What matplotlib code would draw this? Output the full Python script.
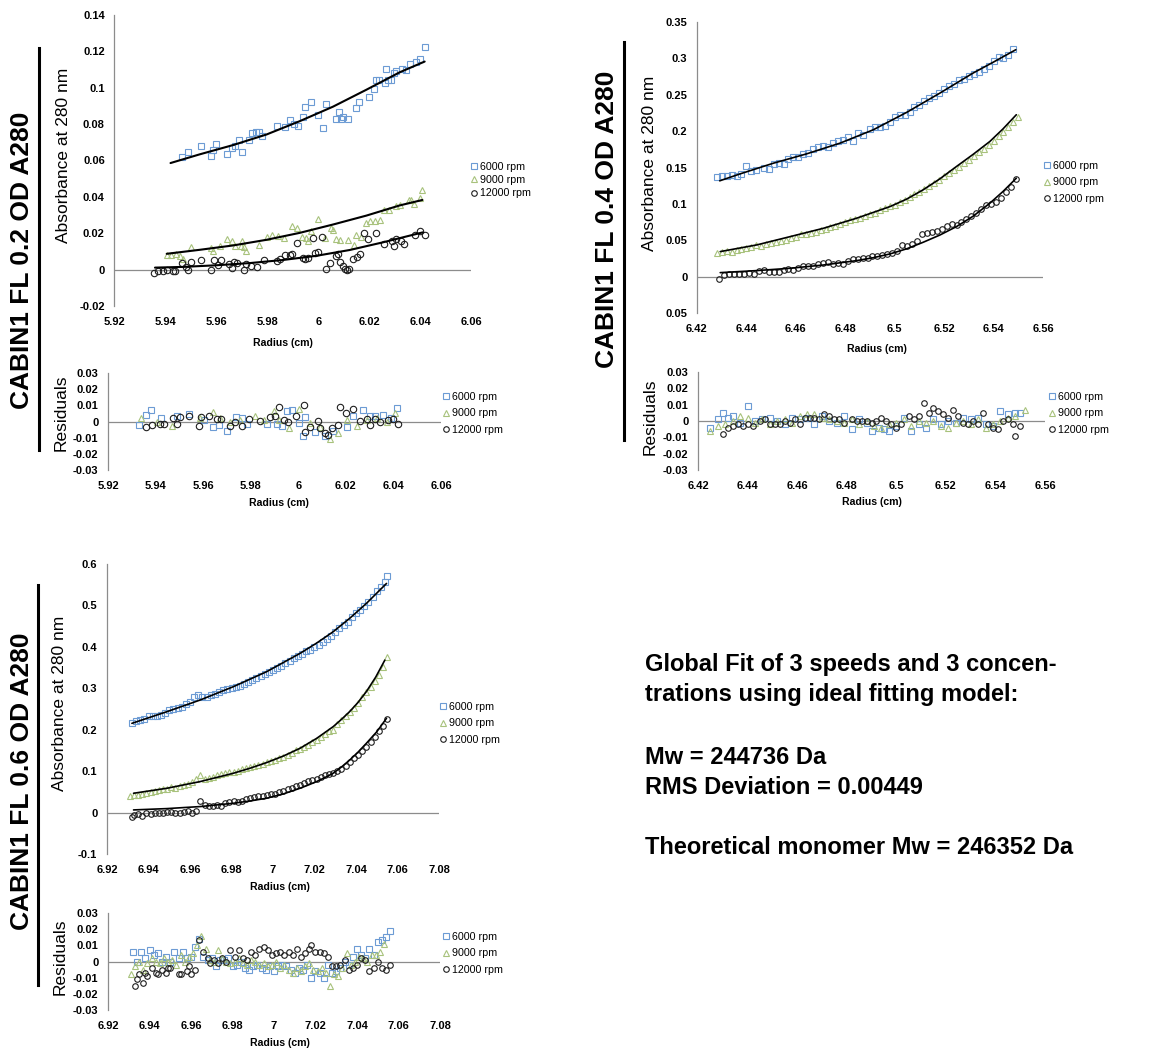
import matplotlib
matplotlib.use("Agg")
import matplotlib.pyplot as plt
from matplotlib.lines import Line2D

plt.rcParams["font.family"] = ["Liberation Sans", "DejaVu Sans"]

W, H = 1165, 1055
BLUE = "#6c9bd4"
GREEN = "#a8c27c"
BLACK = "#1e1e1e"
GRAY = "#8c8c8c"

SPEEDS = ["6000 rpm", "9000 rpm", "12000 rpm"]
SAMPLES = ["CABIN1 FL 0.2 OD A280", "CABIN1 FL 0.4 OD A280", "CABIN1 FL 0.6 OD A280"]

# ---------------- 0.2 OD: absorbance (radius cm, A280) ----------------
od02_abs_6000 = [(5.9467, 0.0619), (5.9490, 0.0648), (5.9538, 0.0678), (5.9577, 0.0626), (5.9587, 0.0657),
                 (5.9599, 0.0692), (5.9640, 0.0634), (5.9662, 0.0670), (5.9672, 0.0680), (5.9688, 0.0710),
                 (5.9700, 0.0648), (5.9729, 0.0714), (5.9740, 0.0750), (5.9757, 0.0754), (5.9767, 0.0754),
                 (5.9778, 0.0734), (5.9838, 0.0787), (5.9869, 0.0783), (5.9888, 0.0823), (5.9904, 0.0801),
                 (5.9919, 0.0787), (5.9940, 0.0839), (5.9948, 0.0892), (5.9971, 0.0920), (5.9999, 0.0849),
                 (6.0019, 0.0779), (6.0029, 0.0909), (6.0069, 0.0830), (6.0080, 0.0867), (6.0088, 0.0830),
                 (6.0099, 0.0837), (6.0117, 0.0830), (6.0147, 0.0889), (6.0159, 0.0920), (6.0198, 0.0947),
                 (6.0218, 0.0994), (6.0228, 0.1040), (6.0238, 0.1044), (6.0261, 0.1025), (6.0267, 0.1104),
                 (6.0276, 0.1044), (6.0287, 0.1040), (6.0297, 0.1080), (6.0305, 0.1090), (6.0329, 0.1104),
                 (6.0346, 0.1095), (6.0359, 0.1129), (6.0385, 0.1140), (6.0398, 0.1158), (6.0418, 0.1224)]
od02_abs_9000 = [(5.9408, 0.0078), (5.9423, 0.0082), (5.9440, 0.0084), (5.9457, 0.0073), (5.9470, 0.0058),
                 (5.9500, 0.0124), (5.9577, 0.0120), (5.9588, 0.0102), (5.9614, 0.0128), (5.9640, 0.0169),
                 (5.9660, 0.0157), (5.9673, 0.0128), (5.9695, 0.0128), (5.9701, 0.0157), (5.9709, 0.0124),
                 (5.9718, 0.0102), (5.9769, 0.0138), (5.9797, 0.0182), (5.9819, 0.0193), (5.9841, 0.0184),
                 (5.9865, 0.0175), (5.9899, 0.0240), (5.9918, 0.0231), (5.9938, 0.0182), (5.9951, 0.0175),
                 (5.9960, 0.0157), (5.9972, 0.0215), (5.9999, 0.0279), (6.0026, 0.0175), (6.0049, 0.0228),
                 (6.0058, 0.0220), (6.0069, 0.0171), (6.0087, 0.0164), (6.0116, 0.0164), (6.0139, 0.0133),
                 (6.0147, 0.0191), (6.0167, 0.0182), (6.0189, 0.0255), (6.0205, 0.0270), (6.0224, 0.0266),
                 (6.0244, 0.0275), (6.0257, 0.0328), (6.0277, 0.0330), (6.0307, 0.0348), (6.0320, 0.0357),
                 (6.0356, 0.0383), (6.0365, 0.0384), (6.0378, 0.0361), (6.0398, 0.0392), (6.0409, 0.0439)]
od02_abs_12000 = [(5.9356, -0.0018), (5.9372, -0.0007), (5.9389, -0.0007), (5.9408, -0.0004), (5.9428, -0.0007),
                  (5.9437, -0.0007), (5.9467, 0.0036), (5.9479, 0.0015), (5.9490, 0.0000), (5.9499, 0.0042),
                  (5.9538, 0.0055), (5.9577, -0.0004), (5.9589, 0.0051), (5.9607, 0.0024), (5.9618, 0.0055),
                  (5.9648, 0.0033), (5.9660, 0.0009), (5.9670, 0.0044), (5.9681, 0.0036), (5.9708, 0.0000),
                  (5.9718, 0.0033), (5.9738, 0.0022), (5.9758, 0.0013), (5.9788, 0.0055), (5.9840, 0.0046),
                  (5.9849, 0.0060), (5.9870, 0.0078), (5.9888, 0.0082), (5.9899, 0.0087), (5.9918, 0.0148),
                  (5.9941, 0.0066), (5.9950, 0.0060), (5.9959, 0.0066), (5.9980, 0.0175), (5.9989, 0.0091),
                  (5.9999, 0.0097), (6.0016, 0.0179), (6.0029, 0.0005), (6.0045, 0.0035), (6.0069, 0.0073),
                  (6.0079, 0.0087), (6.0087, 0.0042), (6.0097, 0.0018), (6.0104, 0.0005), (6.0114, 0.0000),
                  (6.0119, 0.0004), (6.0136, 0.0060), (6.0154, 0.0069), (6.0163, 0.0084), (6.0178, 0.0200),
                  (6.0195, 0.0166), (6.0228, 0.0200), (6.0257, 0.0140), (6.0289, 0.0158), (6.0296, 0.0128),
                  (6.0307, 0.0171), (6.0326, 0.0160), (6.0337, 0.0142), (6.0379, 0.0191), (6.0398, 0.0215),
                  (6.0418, 0.0193)]
od02_fit_6000 = [(5.9420, 0.0586), (5.9535, 0.0634), (5.9666, 0.0685), (5.9797, 0.0743), (5.9927, 0.0816),
                 (6.0058, 0.0896), (6.0189, 0.0989), (6.0320, 0.1085), (6.0418, 0.1144)]
od02_fit_9000 = [(5.9405, 0.0087), (5.9535, 0.0109), (5.9666, 0.0133), (5.9797, 0.0164), (5.9927, 0.0202),
                 (6.0058, 0.0248), (6.0189, 0.0297), (6.0320, 0.0353), (6.0409, 0.0383)]
od02_fit_12000 = [(5.9359, 0.0011), (5.9470, 0.0015), (5.9601, 0.0024), (5.9731, 0.0036), (5.9862, 0.0053),
                  (5.9993, 0.0076), (6.0124, 0.0108), (6.0254, 0.0150), (6.0411, 0.0205)]

# ---------------- 0.2 OD: residuals ----------------
od02_res_6000 = [(5.9329, -0.0021), (5.9360, 0.0041), (5.9381, 0.0072), (5.9423, 0.0021), (5.9490, 0.0035),
                 (5.9539, 0.0046), (5.9602, 0.0010), (5.9640, -0.0035), (5.9665, -0.0021), (5.9700, -0.0058),
                 (5.9739, 0.0027), (5.9763, 0.0023), (5.9784, -0.0014), (5.9868, -0.0017), (5.9910, -0.0017),
                 (5.9931, -0.0025), (5.9952, 0.0062), (5.9973, 0.0072), (6.0001, -0.0010), (6.0019, -0.0089),
                 (6.0030, 0.0027), (6.0071, -0.0068), (6.0113, -0.0089), (6.0148, -0.0056), (6.0204, -0.0035),
                 (6.0232, 0.0035), (6.0271, 0.0072), (6.0302, 0.0031), (6.0323, 0.0031), (6.0358, 0.0041),
                 (6.0389, 0.0021), (6.0414, 0.0083)]
od02_res_9000 = [(5.9339, 0.0021), (5.9406, 0.0000), (5.9469, -0.0027), (5.9588, 0.0021), (5.9640, 0.0058),
                 (5.9672, 0.0021), (5.9714, 0.0000), (5.9756, 0.0010), (5.9819, 0.0031), (5.9854, 0.0010),
                 (5.9896, 0.0062), (5.9921, 0.0010), (5.9959, -0.0041), (6.0001, 0.0077), (6.0050, -0.0010),
                 (6.0092, -0.0031), (6.0134, -0.0110), (6.0169, -0.0072), (6.0204, 0.0010), (6.0246, -0.0027),
                 (6.0288, 0.0010), (6.0330, 0.0021), (6.0372, 0.0000), (6.0407, 0.0052)]
od02_res_12000 = [(5.9358, -0.0031), (5.9386, -0.0021), (5.9417, -0.0017), (5.9437, -0.0017), (5.9472, 0.0019),
                  (5.9490, -0.0014), (5.9501, 0.0025), (5.9540, 0.0037), (5.9581, -0.0027), (5.9592, 0.0027),
                  (5.9623, 0.0031), (5.9658, 0.0014), (5.9675, 0.0014), (5.9714, -0.0027), (5.9735, -0.0004),
                  (5.9763, -0.0025), (5.9791, 0.0017), (5.9840, 0.0006), (5.9882, 0.0025), (5.9903, 0.0037),
                  (5.9920, 0.0089), (5.9938, 0.0012), (5.9955, -0.0006), (5.9991, 0.0031), (6.0022, 0.0103),
                  (6.0030, -0.0064), (6.0050, -0.0037), (6.0081, 0.0004), (6.0092, -0.0041), (6.0113, -0.0072),
                  (6.0127, -0.0083), (6.0141, -0.0039), (6.0169, -0.0021), (6.0176, 0.0089), (6.0200, 0.0052),
                  (6.0232, 0.0077), (6.0260, 0.0006), (6.0288, 0.0017), (6.0302, -0.0021), (6.0323, 0.0017),
                  (6.0344, 0.0000), (6.0379, 0.0010), (6.0400, 0.0017), (6.0421, -0.0014)]

# ---------------- 0.4 OD: absorbance ----------------
od04_abs_6000 = [(6.428, 0.137), (6.430, 0.139), (6.432, 0.138), (6.434, 0.140), (6.436, 0.138), (6.438, 0.141),
                 (6.440, 0.152), (6.442, 0.145), (6.444, 0.147), (6.447, 0.150), (6.449, 0.148), (6.451, 0.155),
                 (6.453, 0.156), (6.455, 0.155), (6.457, 0.162), (6.459, 0.165), (6.461, 0.165), (6.463, 0.168),
                 (6.465, 0.170), (6.467, 0.175), (6.469, 0.178), (6.471, 0.180), (6.473, 0.178), (6.475, 0.183),
                 (6.477, 0.186), (6.479, 0.188), (6.481, 0.192), (6.483, 0.186), (6.485, 0.197), (6.487, 0.194),
                 (6.490, 0.203), (6.492, 0.205), (6.494, 0.206), (6.496, 0.207), (6.498, 0.212), (6.500, 0.220),
                 (6.502, 0.222), (6.504, 0.222), (6.506, 0.226), (6.508, 0.233), (6.510, 0.236), (6.512, 0.242),
                 (6.514, 0.245), (6.516, 0.248), (6.518, 0.252), (6.520, 0.258), (6.522, 0.262), (6.524, 0.265),
                 (6.526, 0.270), (6.528, 0.272), (6.530, 0.276), (6.532, 0.278), (6.534, 0.281), (6.536, 0.285),
                 (6.538, 0.290), (6.540, 0.297), (6.542, 0.302), (6.544, 0.301), (6.546, 0.305), (6.548, 0.313)]
od04_abs_9000 = [(6.428, 0.033), (6.430, 0.034), (6.432, 0.035), (6.434, 0.034), (6.436, 0.036), (6.438, 0.038),
                 (6.440, 0.040), (6.442, 0.041), (6.444, 0.043), (6.446, 0.042), (6.448, 0.045), (6.450, 0.046),
                 (6.452, 0.047), (6.454, 0.049), (6.456, 0.050), (6.458, 0.053), (6.460, 0.055), (6.462, 0.058),
                 (6.464, 0.059), (6.466, 0.060), (6.468, 0.062), (6.470, 0.064), (6.472, 0.066), (6.474, 0.068),
                 (6.476, 0.070), (6.478, 0.073), (6.480, 0.075), (6.482, 0.078), (6.484, 0.079), (6.486, 0.081),
                 (6.488, 0.083), (6.490, 0.086), (6.492, 0.088), (6.494, 0.091), (6.496, 0.094), (6.498, 0.097),
                 (6.500, 0.099), (6.502, 0.103), (6.504, 0.106), (6.506, 0.110), (6.508, 0.113), (6.510, 0.117),
                 (6.512, 0.120), (6.514, 0.124), (6.516, 0.129), (6.518, 0.133), (6.520, 0.138), (6.522, 0.142),
                 (6.524, 0.146), (6.526, 0.151), (6.528, 0.156), (6.530, 0.160), (6.532, 0.166), (6.534, 0.171),
                 (6.536, 0.176), (6.538, 0.181), (6.540, 0.186), (6.542, 0.193), (6.544, 0.199), (6.546, 0.206),
                 (6.548, 0.212), (6.550, 0.220)]
od04_abs_12000 = [(6.429, -0.003), (6.431, 0.002), (6.433, 0.003), (6.435, 0.004), (6.437, 0.003), (6.439, 0.004),
                  (6.441, 0.005), (6.443, 0.004), (6.445, 0.008), (6.447, 0.009), (6.449, 0.006), (6.451, 0.007),
                  (6.453, 0.007), (6.455, 0.009), (6.457, 0.010), (6.459, 0.009), (6.461, 0.012), (6.463, 0.014),
                  (6.465, 0.015), (6.467, 0.014), (6.469, 0.017), (6.471, 0.019), (6.473, 0.020), (6.475, 0.018),
                  (6.477, 0.019), (6.479, 0.018), (6.481, 0.022), (6.483, 0.024), (6.485, 0.024), (6.487, 0.025),
                  (6.489, 0.026), (6.491, 0.028), (6.493, 0.029), (6.495, 0.030), (6.497, 0.031), (6.499, 0.032),
                  (6.501, 0.035), (6.503, 0.043), (6.505, 0.042), (6.507, 0.045), (6.509, 0.049), (6.511, 0.058),
                  (6.513, 0.060), (6.515, 0.062), (6.517, 0.063), (6.519, 0.066), (6.521, 0.070), (6.523, 0.073),
                  (6.525, 0.071), (6.527, 0.075), (6.529, 0.079), (6.531, 0.083), (6.533, 0.087), (6.535, 0.093),
                  (6.537, 0.098), (6.539, 0.100), (6.541, 0.103), (6.543, 0.108), (6.545, 0.116), (6.547, 0.123),
                  (6.549, 0.134)]
od04_fit_6000 = [(6.4292, 0.1317), (6.4375, 0.1413), (6.4510, 0.1560), (6.4644, 0.1688), (6.4779, 0.1835),
                 (6.4913, 0.2018), (6.5048, 0.2257), (6.5183, 0.2523), (6.5317, 0.2798), (6.5400, 0.2950),
                 (6.5490, 0.3119)]
od04_fit_9000 = [(6.4294, 0.0344), (6.4442, 0.0436), (6.4577, 0.0550), (6.4712, 0.0665), (6.4846, 0.0803),
                 (6.4981, 0.0963), (6.5048, 0.1065), (6.5115, 0.1193), (6.5183, 0.1345), (6.5250, 0.1514),
                 (6.5317, 0.1680), (6.5385, 0.1858), (6.5438, 0.2030), (6.5492, 0.2225)]
od04_fit_12000 = [(6.4294, 0.0055), (6.4442, 0.0083), (6.4577, 0.0115), (6.4712, 0.0160), (6.4846, 0.0220),
                  (6.4913, 0.0260), (6.4981, 0.0312), (6.5048, 0.0382), (6.5115, 0.0472), (6.5183, 0.0572),
                  (6.5250, 0.0688), (6.5317, 0.0830), (6.5385, 0.1009), (6.5438, 0.1170), (6.5492, 0.1353)]

# ---------------- 0.4 OD: residuals ----------------
od04_res_6000 = [(6.425, -0.004), (6.428, 0.001), (6.430, 0.005), (6.432, 0.002), (6.434, 0.003), (6.437, -0.001),
                 (6.440, 0.009), (6.443, 0.000), (6.446, 0.001), (6.449, 0.002), (6.452, 0.000), (6.455, -0.002),
                 (6.458, 0.002), (6.461, 0.001), (6.464, 0.002), (6.467, -0.002), (6.470, 0.003), (6.473, 0.000),
                 (6.476, -0.001), (6.479, 0.003), (6.482, -0.005), (6.485, 0.001), (6.488, -0.001), (6.490, -0.006),
                 (6.493, -0.004), (6.495, -0.005), (6.497, -0.006), (6.500, -0.003), (6.503, 0.002), (6.506, -0.006),
                 (6.509, -0.002), (6.512, -0.004), (6.515, 0.001), (6.518, -0.002), (6.521, 0.000), (6.524, -0.001),
                 (6.527, 0.002), (6.530, 0.001), (6.533, 0.002), (6.536, -0.002), (6.539, -0.003), (6.542, 0.006),
                 (6.545, 0.004), (6.548, 0.005), (6.550, 0.005)]
od04_res_9000 = [(6.425, -0.006), (6.428, -0.003), (6.431, -0.002), (6.434, 0.000), (6.437, 0.003), (6.440, 0.002),
                 (6.443, -0.001), (6.446, 0.001), (6.449, -0.002), (6.452, 0.000), (6.455, 0.001), (6.458, -0.001),
                 (6.461, 0.003), (6.464, 0.004), (6.467, 0.004), (6.470, 0.002), (6.473, 0.001), (6.476, 0.000),
                 (6.479, -0.001), (6.482, 0.001), (6.485, -0.002), (6.488, 0.000), (6.491, -0.003), (6.494, -0.004),
                 (6.497, -0.002), (6.500, -0.001), (6.503, 0.001), (6.506, -0.003), (6.509, 0.000), (6.512, -0.001),
                 (6.515, 0.000), (6.518, -0.003), (6.521, -0.004), (6.524, -0.001), (6.527, 0.000), (6.530, -0.002),
                 (6.533, 0.001), (6.536, -0.004), (6.539, -0.002), (6.542, 0.000), (6.545, 0.002), (6.548, 0.003),
                 (6.552, 0.007)]
od04_res_12000 = [(6.430, -0.008), (6.432, -0.004), (6.434, -0.003), (6.436, -0.002), (6.438, -0.003), (6.440, -0.002),
                  (6.442, -0.003), (6.445, 0.000), (6.447, 0.001), (6.449, -0.002), (6.451, -0.002), (6.453, -0.002),
                  (6.455, 0.000), (6.457, -0.001), (6.459, 0.001), (6.461, -0.002), (6.463, 0.002), (6.465, 0.002),
                  (6.467, 0.002), (6.469, 0.001), (6.471, 0.004), (6.473, 0.003), (6.475, 0.001), (6.477, 0.001),
                  (6.479, -0.001), (6.482, 0.001), (6.484, 0.000), (6.486, 0.000), (6.488, 0.000), (6.490, -0.001),
                  (6.492, 0.000), (6.494, 0.002), (6.496, 0.000), (6.498, -0.002), (6.500, -0.004), (6.502, -0.002),
                  (6.505, 0.003), (6.507, 0.001), (6.509, 0.003), (6.511, 0.011), (6.513, 0.005), (6.515, 0.008),
                  (6.517, 0.006), (6.519, 0.004), (6.521, 0.002), (6.523, 0.007), (6.525, 0.003), (6.527, -0.001),
                  (6.529, -0.002), (6.531, 0.000), (6.533, -0.002), (6.535, 0.005), (6.537, -0.002), (6.539, -0.004),
                  (6.541, -0.005), (6.543, 0.000), (6.545, 0.001), (6.547, -0.002), (6.548, -0.009), (6.550, -0.003)]

# ---------------- 0.6 OD: absorbance ----------------
od06_abs_6000 = [(6.932, 0.217), (6.934, 0.222), (6.936, 0.224), (6.938, 0.226), (6.940, 0.232), (6.942, 0.233),
                 (6.944, 0.234), (6.946, 0.236), (6.948, 0.240), (6.950, 0.248), (6.952, 0.250), (6.954, 0.252),
                 (6.956, 0.255), (6.958, 0.262), (6.960, 0.268), (6.962, 0.280), (6.964, 0.285), (6.966, 0.278),
                 (6.968, 0.280), (6.970, 0.283), (6.972, 0.286), (6.974, 0.290), (6.976, 0.296), (6.978, 0.298),
                 (6.980, 0.301), (6.982, 0.304), (6.984, 0.306), (6.986, 0.310), (6.988, 0.316), (6.990, 0.320),
                 (6.992, 0.325), (6.994, 0.330), (6.996, 0.335), (6.998, 0.340), (7.000, 0.344), (7.002, 0.350),
                 (7.004, 0.355), (7.006, 0.360), (7.008, 0.366), (7.010, 0.372), (7.012, 0.377), (7.014, 0.383),
                 (7.016, 0.389), (7.018, 0.393), (7.020, 0.399), (7.022, 0.404), (7.024, 0.412), (7.026, 0.420),
                 (7.028, 0.427), (7.030, 0.437), (7.032, 0.445), (7.034, 0.452), (7.036, 0.461), (7.038, 0.472),
                 (7.040, 0.482), (7.042, 0.490), (7.044, 0.498), (7.046, 0.508), (7.048, 0.520), (7.050, 0.535),
                 (7.052, 0.545), (7.054, 0.556), (7.055, 0.570)]
od06_abs_9000 = [(6.931, 0.040), (6.933, 0.043), (6.935, 0.042), (6.937, 0.046), (6.939, 0.048), (6.941, 0.050),
                 (6.943, 0.052), (6.945, 0.054), (6.947, 0.056), (6.949, 0.057), (6.951, 0.061), (6.953, 0.060),
                 (6.955, 0.064), (6.957, 0.066), (6.959, 0.068), (6.961, 0.073), (6.963, 0.080), (6.965, 0.090),
                 (6.967, 0.082), (6.969, 0.083), (6.971, 0.086), (6.973, 0.091), (6.975, 0.094), (6.977, 0.095),
                 (6.979, 0.097), (6.981, 0.099), (6.983, 0.101), (6.985, 0.104), (6.987, 0.108), (6.989, 0.110),
                 (6.991, 0.113), (6.993, 0.115), (6.995, 0.118), (6.997, 0.121), (6.999, 0.124), (7.001, 0.127),
                 (7.003, 0.131), (7.005, 0.135), (7.007, 0.140), (7.009, 0.145), (7.011, 0.150), (7.013, 0.153),
                 (7.015, 0.158), (7.017, 0.164), (7.019, 0.170), (7.021, 0.176), (7.023, 0.182), (7.025, 0.190),
                 (7.027, 0.198), (7.029, 0.200), (7.031, 0.215), (7.033, 0.224), (7.035, 0.232), (7.037, 0.242),
                 (7.039, 0.253), (7.041, 0.264), (7.043, 0.278), (7.045, 0.290), (7.047, 0.302), (7.049, 0.318),
                 (7.051, 0.332), (7.053, 0.352), (7.055, 0.375)]
od06_abs_12000 = [(6.932, -0.010), (6.933, -0.006), (6.935, -0.003), (6.937, -0.008), (6.939, -0.002), (6.941, -0.004),
                  (6.943, -0.001), (6.945, 0.000), (6.947, -0.002), (6.949, 0.001), (6.951, 0.002), (6.953, -0.002),
                  (6.955, 0.000), (6.957, 0.001), (6.959, 0.004), (6.961, 0.000), (6.963, 0.004), (6.965, 0.027),
                  (6.967, 0.018), (6.969, 0.016), (6.971, 0.016), (6.973, 0.018), (6.975, 0.017), (6.977, 0.024),
                  (6.979, 0.025), (6.981, 0.027), (6.983, 0.026), (6.985, 0.029), (6.987, 0.033), (6.989, 0.034),
                  (6.991, 0.037), (6.993, 0.039), (6.995, 0.041), (6.997, 0.043), (6.999, 0.044), (7.001, 0.046),
                  (7.003, 0.049), (7.005, 0.052), (7.007, 0.056), (7.009, 0.060), (7.011, 0.064), (7.013, 0.066),
                  (7.015, 0.072), (7.017, 0.076), (7.019, 0.078), (7.021, 0.081), (7.023, 0.085), (7.025, 0.090),
                  (7.027, 0.094), (7.029, 0.096), (7.031, 0.101), (7.033, 0.106), (7.035, 0.112), (7.037, 0.122),
                  (7.039, 0.131), (7.041, 0.140), (7.043, 0.148), (7.045, 0.158), (7.047, 0.170), (7.049, 0.183),
                  (7.051, 0.196), (7.053, 0.208), (7.055, 0.225)]
od06_fit_6000 = [(6.9320, 0.2154), (6.9489, 0.2436), (6.9649, 0.2717), (6.9809, 0.3039), (6.9969, 0.3400),
                 (7.0130, 0.3842), (7.0210, 0.4090), (7.0290, 0.4365), (7.0370, 0.4690), (7.0450, 0.5048),
                 (7.0547, 0.5530)]
od06_fit_9000 = [(6.9328, 0.0466), (6.9489, 0.0587), (6.9649, 0.0748), (6.9809, 0.0949), (6.9889, 0.1070),
                 (6.9969, 0.1206), (7.0050, 0.1365), (7.0130, 0.1551), (7.0210, 0.1790), (7.0290, 0.2074),
                 (7.0330, 0.2250), (7.0370, 0.2440), (7.0410, 0.2660), (7.0450, 0.2920), (7.0495, 0.3270),
                 (7.0539, 0.3680)]
od06_fit_12000 = [(6.9328, 0.0064), (6.9489, 0.0096), (6.9649, 0.0145), (6.9809, 0.0225), (6.9889, 0.0280),
                  (6.9969, 0.0346), (7.0050, 0.0450), (7.0130, 0.0587), (7.0170, 0.0665), (7.0210, 0.0748),
                  (7.0250, 0.0845), (7.0290, 0.0949), (7.0330, 0.1100), (7.0370, 0.1270), (7.0410, 0.1460),
                  (7.0450, 0.1672), (7.0500, 0.1950), (7.0547, 0.2275)]

# ---------------- 0.6 OD: residuals ----------------
od06_res_6000 = [(6.932, 0.006), (6.934, 0.000), (6.936, 0.006), (6.938, 0.002), (6.940, 0.007), (6.942, 0.004),
                 (6.944, 0.005), (6.946, 0.000), (6.948, 0.003), (6.950, 0.000), (6.952, 0.006), (6.954, 0.002),
                 (6.956, 0.006), (6.958, 0.002), (6.960, 0.003), (6.962, 0.009), (6.964, 0.014), (6.966, 0.003),
                 (6.968, 0.001), (6.970, 0.002), (6.972, -0.003), (6.974, 0.001), (6.976, 0.001), (6.978, 0.002),
                 (6.980, -0.003), (6.982, -0.002), (6.984, 0.000), (6.986, -0.004), (6.988, -0.005), (6.990, -0.003),
                 (6.992, -0.002), (6.994, -0.004), (6.996, -0.005), (6.998, -0.003), (7.000, -0.006), (7.002, -0.003),
                 (7.004, -0.002), (7.006, -0.003), (7.008, -0.005), (7.010, -0.007), (7.012, -0.004), (7.014, -0.005),
                 (7.016, -0.002), (7.018, -0.010), (7.020, -0.006), (7.022, -0.007), (7.024, -0.010), (7.026, -0.002),
                 (7.028, -0.007), (7.030, -0.006), (7.032, -0.004), (7.034, 0.000), (7.036, -0.002), (7.038, 0.003),
                 (7.040, 0.008), (7.042, 0.004), (7.044, 0.002), (7.046, 0.008), (7.048, 0.004), (7.050, 0.012),
                 (7.052, 0.013), (7.054, 0.015), (7.056, 0.019)]
od06_res_9000 = [(6.931, -0.008), (6.933, -0.003), (6.935, 0.000), (6.937, -0.005), (6.939, -0.001), (6.941, 0.002),
                 (6.943, 0.000), (6.945, -0.001), (6.947, 0.002), (6.949, 0.000), (6.951, 0.001), (6.953, -0.002),
                 (6.955, 0.004), (6.957, 0.000), (6.959, 0.003), (6.961, 0.005), (6.963, 0.010), (6.965, 0.016),
                 (6.967, 0.008), (6.969, 0.001), (6.971, 0.000), (6.973, 0.007), (6.975, 0.002), (6.977, 0.000),
                 (6.979, -0.001), (6.981, 0.000), (6.983, 0.002), (6.985, -0.001), (6.987, -0.002), (6.989, 0.001),
                 (6.991, 0.000), (6.993, -0.002), (6.995, -0.001), (6.997, -0.003), (6.999, -0.002), (7.001, 0.000),
                 (7.003, -0.004), (7.005, -0.002), (7.007, -0.005), (7.009, -0.007), (7.011, -0.004), (7.013, -0.006),
                 (7.015, -0.003), (7.017, -0.001), (7.019, -0.005), (7.021, -0.006), (7.023, -0.004), (7.025, -0.007),
                 (7.027, -0.015), (7.029, -0.008), (7.031, -0.009), (7.033, -0.004), (7.035, 0.005), (7.037, -0.002),
                 (7.039, 0.000), (7.041, 0.003), (7.043, 0.002), (7.045, 0.000), (7.047, 0.004), (7.049, 0.004),
                 (7.051, 0.006), (7.053, 0.011)]
od06_res_12000 = [(6.933, -0.015), (6.934, -0.011), (6.935, -0.008), (6.937, -0.013), (6.938, -0.007), (6.939, -0.009),
                  (6.941, -0.004), (6.943, -0.007), (6.944, -0.008), (6.946, -0.005), (6.948, -0.007), (6.949, -0.004),
                  (6.950, -0.004), (6.954, -0.008), (6.955, -0.008), (6.958, -0.006), (6.959, -0.003), (6.960, -0.008),
                  (6.962, -0.005), (6.964, 0.013), (6.966, 0.006), (6.968, 0.002), (6.969, -0.001), (6.971, 0.001),
                  (6.973, -0.001), (6.975, 0.002), (6.977, 0.000), (6.979, 0.007), (6.981, 0.003), (6.983, 0.007),
                  (6.985, 0.002), (6.987, 0.001), (6.989, 0.006), (6.991, 0.004), (6.993, 0.008), (6.995, 0.009),
                  (6.997, 0.007), (6.999, 0.004), (7.001, 0.005), (7.003, 0.006), (7.005, 0.004), (7.007, 0.006),
                  (7.009, 0.004), (7.011, 0.008), (7.013, 0.003), (7.015, 0.005), (7.017, 0.008), (7.018, 0.010),
                  (7.020, 0.006), (7.022, 0.006), (7.024, 0.005), (7.026, 0.003), (7.028, -0.003), (7.030, -0.003),
                  (7.032, -0.002), (7.034, 0.001), (7.036, -0.005), (7.038, -0.004), (7.040, -0.002), (7.042, 0.002),
                  (7.044, 0.001), (7.046, -0.006), (7.048, -0.004), (7.050, 0.000), (7.052, -0.004), (7.054, -0.005),
                  (7.056, -0.002)]

# ---------------- tick labels ----------------
od02_xticks = [5.92, 5.94, 5.96, 5.98, 6.00, 6.02, 6.04, 6.06]
od02_xlabels = ["5.92", "5.94", "5.96", "5.98", "6", "6.02", "6.04", "6.06"]
od04_xticks = [6.42, 6.44, 6.46, 6.48, 6.50, 6.52, 6.54, 6.56]
od04_xlabels = ["6.42", "6.44", "6.46", "6.48", "6.5", "6.52", "6.54", "6.56"]
od06_xticks = [6.92, 6.94, 6.96, 6.98, 7.00, 7.02, 7.04, 7.06, 7.08]
od06_xlabels = ["6.92", "6.94", "6.96", "6.98", "7", "7.02", "7.04", "7.06", "7.08"]
od02_yticks = [-0.02, 0, 0.02, 0.04, 0.06, 0.08, 0.10, 0.12, 0.14]
od02_ylabels = ["-0.02", "0", "0.02", "0.04", "0.06", "0.08", "0.1", "0.12", "0.14"]
od04_yticks = [-0.05, 0, 0.05, 0.10, 0.15, 0.20, 0.25, 0.30, 0.35]
od04_ylabels = ["0.05", "0", "0.05", "0.1", "0.15", "0.2", "0.25", "0.3", "0.35"]
od06_yticks = [-0.1, 0, 0.1, 0.2, 0.3, 0.4, 0.5, 0.6]
od06_ylabels = ["-0.1", "0", "0.1", "0.2", "0.3", "0.4", "0.5", "0.6"]
res_yticks = [-0.03, -0.02, -0.01, 0, 0.01, 0.02, 0.03]
res_ylabels = ["-0.03", "-0.02", "-0.01", "0", "0.01", "0.02", "0.03"]

summary_lines = [
    ("Global Fit of 3 speeds and 3 concen-", 664),
    ("trations using ideal fitting model:", 695),
    ("Mw = 244736 Da", 757),
    ("RMS Deviation = 0.00449", 787),
    ("Theoretical monomer Mw = 246352 Da", 848),
]

fig = plt.figure(figsize=(W / 100, H / 100), dpi=100)
fig.patch.set_facecolor("white")

MARKERS = [("s", BLUE), ("^", GREEN), ("o", BLACK)]


def fx(px):
    return px / W


def fy(py):
    return 1 - py / H


def make_axes(l, t, r, b):
    return fig.add_axes([l / W, 1 - b / H, (r - l) / W, (b - t) / H])


def style(ax, xlim, xticks, xlabels, ylim, yticks, ylabels):
    ax.set_xlim(*xlim)
    ax.set_ylim(*ylim)
    for side in ("top", "right", "bottom"):
        ax.spines[side].set_visible(False)
    ax.spines["left"].set_color(GRAY)
    ax.spines["left"].set_linewidth(0.9)
    ax.axhline(0, color=GRAY, lw=0.9, zorder=1)
    ax.set_xticks(xticks)
    ax.set_xticklabels(xlabels)
    ax.set_yticks(yticks)
    ax.set_yticklabels(ylabels)
    ax.tick_params(axis="both", length=0, labelsize=8)
    ax.tick_params(axis="x", pad=8)
    ax.tick_params(axis="y", pad=7)
    for lab in ax.get_xticklabels() + ax.get_yticklabels():
        lab.set_fontweight("bold")
    ax.patch.set_alpha(0)


def scatter(ax, series, ms):
    for pts, (mk, col) in zip(series, MARKERS):
        xs = [p[0] for p in pts]
        ys = [p[1] for p in pts]
        ax.plot(xs, ys, linestyle="none", marker=mk, mfc="none", mec=col, ms=ms, mew=0.8, zorder=3)


def fits(ax, curves, lw):
    for pts in curves:
        ax.plot([p[0] for p in pts], [p[1] for p in pts], color="black", lw=lw, zorder=4,
                solid_capstyle="round", solid_joinstyle="round")


def legend(ax, x, y, spacing):
    handles = [Line2D([], [], linestyle="none", marker=mk, mfc="none", mec=col, ms=4, mew=0.8)
               for mk, col in MARKERS]
    ax.legend(handles, SPEEDS, loc="upper left", bbox_to_anchor=(fx(x), fy(y)),
              bbox_transform=fig.transFigure, frameon=False, fontsize=7.7,
              handlelength=0.6, handletextpad=0.25, labelspacing=spacing,
              borderpad=0, borderaxespad=0)


def ytitle(x, y, text):
    fig.text(fx(x), fy(y), text, rotation=90, ha="center", va="center", fontsize=12.5)


def xtitle(x, y):
    fig.text(fx(x), fy(y), "Radius (cm)", ha="center", va="center", fontsize=7.6, fontweight="bold")


def sample_label(x, y, text, line_x, line_top, line_bottom):
    fig.text(fx(x), fy(y), text, rotation=90, ha="center", va="center", fontsize=19, fontweight="bold")
    fig.add_artist(Line2D([fx(line_x), fx(line_x)], [fy(line_top), fy(line_bottom)],
                          color="black", lw=2.2, transform=fig.transFigure))


# ===== 0.2 OD =====
ax = make_axes(114.5, 15, 471, 306)
style(ax, (5.92, 6.06), od02_xticks, od02_xlabels, (-0.02, 0.14), od02_yticks, od02_ylabels)
scatter(ax, [od02_abs_6000, od02_abs_9000, od02_abs_12000], 4.6)
fits(ax, [od02_fit_6000, od02_fit_9000, od02_fit_12000], 1.5)
legend(ax, 471, 162, 0.3)
ytitle(63, 155, "Absorbance at 280 nm")
xtitle(283, 343)

ax = make_axes(108, 373, 441, 470)
style(ax, (5.92, 6.06), od02_xticks, od02_xlabels, (-0.03, 0.03), res_yticks, res_ylabels)
scatter(ax, [od02_res_6000, od02_res_9000, od02_res_12000], 4.6)
legend(ax, 443, 392, 0.6)
ytitle(61, 413, "Residuals")
xtitle(279, 503)

sample_label(22, 260, SAMPLES[0], 39, 48, 450)

# ===== 0.4 OD =====
ax = make_axes(697, 22, 1043, 313)
style(ax, (6.42, 6.56), od04_xticks, od04_xlabels, (-0.05, 0.35), od04_yticks, od04_ylabels)
scatter(ax, [od04_abs_6000, od04_abs_9000, od04_abs_12000], 4.0)
fits(ax, [od04_fit_6000, od04_fit_9000, od04_fit_12000], 1.2)
legend(ax, 1044, 161, 0.6)
ytitle(650, 163, "Absorbance at 280 nm")
xtitle(877, 349)

ax = make_axes(698, 372, 1045, 470)
style(ax, (6.42, 6.56), od04_xticks, od04_xlabels, (-0.03, 0.03), res_yticks, res_ylabels)
scatter(ax, [od04_res_6000, od04_res_9000, od04_res_12000], 4.0)
legend(ax, 1049, 392, 0.6)
ytitle(650, 417, "Residuals")
xtitle(872, 502)

sample_label(607, 219, SAMPLES[1], 624, 42, 440)

# ===== 0.6 OD =====
ax = make_axes(107, 564, 439, 854)
style(ax, (6.92, 7.08), od06_xticks, od06_xlabels, (-0.1, 0.6), od06_yticks, od06_ylabels)
scatter(ax, [od06_abs_6000, od06_abs_9000, od06_abs_12000], 4.0)
fits(ax, [od06_fit_6000, od06_fit_9000, od06_fit_12000], 1.2)
legend(ax, 440, 702, 0.6)
ytitle(60, 703, "Absorbance at 280 nm")
xtitle(280, 887)

ax = make_axes(108, 913, 440, 1010)
style(ax, (6.92, 7.08), od06_xticks, od06_xlabels, (-0.03, 0.03), res_yticks, res_ylabels)
scatter(ax, [od06_res_6000, od06_res_9000, od06_res_12000], 4.0)
legend(ax, 443, 932, 0.6)
ytitle(60, 957, "Residuals")
xtitle(280, 1043)

sample_label(22, 781, SAMPLES[2], 38, 585, 985)

# ===== fit summary =====
for text, y in summary_lines:
    fig.text(fx(645), fy(y), text, ha="left", va="center", fontsize=17, fontweight="bold")

fig.savefig("out.png", dpi=100, facecolor="white")
